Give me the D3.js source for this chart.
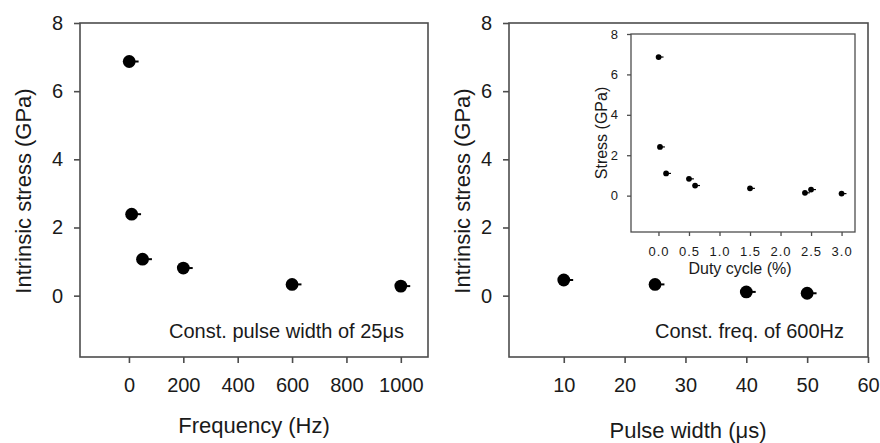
<!DOCTYPE html>
<html>
<head>
<meta charset="utf-8">
<script src="https://cdn.jsdelivr.net/npm/d3@7"></script>
<style>
  body { margin: 0; background: #fff; }
  text { font-family: "Liberation Sans", Arial, sans-serif; fill: #1a1a1a; }
</style>
</head>
<body>
<svg id="chart" width="880" height="443"></svg>
<script>
// left panel: stress vs frequency (const pulse width 25us)
let freqHz = [1, 10, 50, 200, 600, 1000];
let freqStress = [6.87, 2.39, 1.07, 0.81, 0.33, 0.28];
let freqTicks = [0, 200, 400, 600, 800, 1000];

// right panel: stress vs pulse width (const freq 600Hz)
let pulseUs = [10, 25, 40, 50];
let pulseStress = [0.46, 0.33, 0.11, 0.07];
let pulseTicks = [10, 20, 30, 40, 50, 60];

// inset: stress vs duty cycle
let duty = [0.0025, 0.025, 0.125, 0.5, 0.6, 1.5, 2.4, 2.5, 3.0];
let dutyStress = [6.86, 2.41, 1.1, 0.83, 0.5, 0.36, 0.14, 0.3, 0.1];
let dutyTicks = [0, 0.5, 1.0, 1.5, 2.0, 2.5, 3.0];

let stressTicks = [0, 2, 4, 6, 8];

let canvas = d3.select("#chart");
canvas.append("rect").attr("width", 880).attr("height", 443).attr("fill", "#fff");

let boxColor = "#4d4d4d";

function drawPanel(opts) {
    let x = d3.scaleLinear().domain(opts.xDomain).range([opts.left, opts.right]);
    let y = d3.scaleLinear().domain(opts.yDomain).range([opts.bottom, opts.top]);

    let g = canvas.append("g");

    let styleTicks = a => {
        a.select(".domain").remove();
        a.selectAll("line").attr("stroke", boxColor).attr("stroke-width", opts.stroke);
        a.selectAll("text")
            .style("font-family", "'Liberation Sans', Arial, sans-serif")
            .style("font-size", opts.tickFont + "px")
            .style("letter-spacing", opts.spacing + "px")
            .attr("fill", opts.tickColor);
    };

    g.append("g")
        .attr("transform", "translate(0," + opts.bottom + ")")
        .call(d3.axisBottom(x)
            .tickValues(opts.xTicks)
            .tickFormat(opts.xFormat)
            .tickSize(opts.tick)
            .tickSizeOuter(0)
            .tickPadding(opts.xPad))
        .call(styleTicks);

    g.append("g")
        .attr("transform", "translate(" + opts.left + ",0)")
        .call(d3.axisLeft(y)
            .tickValues(stressTicks)
            .tickSize(opts.tick)
            .tickSizeOuter(0)
            .tickPadding(opts.yPad))
        .call(styleTicks);

    g.append("rect")
        .attr("x", opts.left)
        .attr("y", opts.top)
        .attr("width", opts.right - opts.left)
        .attr("height", opts.bottom - opts.top)
        .attr("fill", "none")
        .attr("stroke", boxColor)
        .attr("stroke-width", opts.stroke);

    let pts = opts.xs.map((v, i) => ({ x: v, y: opts.ys[i] }));

    g.selectAll(null).data(pts).enter()
        .append("line")
        .attr("x1", d => x(d.x))
        .attr("x2", d => x(d.x) + opts.r + opts.tail)
        .attr("y1", d => y(d.y))
        .attr("y2", d => y(d.y))
        .attr("stroke", "#000")
        .attr("stroke-width", opts.r > 4 ? 2 : 1.2);

    g.selectAll(null).data(pts).enter()
        .append("circle")
        .attr("cx", d => x(d.x))
        .attr("cy", d => y(d.y))
        .attr("r", opts.r)
        .attr("fill", "#000");

    // axis titles
    g.append("text")
        .attr("x", opts.xTitleX)
        .attr("y", opts.xTitleY)
        .attr("text-anchor", "middle")
        .style("font-size", opts.titleFont + "px")
        .text(opts.xTitle);

    g.append("text")
        .attr("transform", "translate(" + opts.yTitleX + "," + opts.yTitleY + ") rotate(-90)")
        .attr("text-anchor", "middle")
        .attr("dy", "0.35em")
        .style("font-size", opts.titleFont + "px")
        .text(opts.yTitle);

    if (opts.note) {
        g.append("text")
            .attr("x", opts.right - 24)
            .attr("y", 338)
            .attr("text-anchor", "end")
            .style("font-size", "20px")
            .text(opts.note);
    }
    return g;
}

drawPanel({
    xs: freqHz, ys: freqStress,
    xDomain: [-180, 1100], yDomain: [-1.8, 8],
    left: 80, right: 428, top: 23, bottom: 357,
    xTicks: freqTicks, xFormat: d3.format("d"),
    tick: 6, xPad: 15, yPad: 11, stroke: 1.6,
    tickFont: 20, tickColor: "#1a1a1a", spacing: 0,
    r: 6.4, tail: 3,
    titleFont: 22,
    xTitle: "Frequency (Hz)", xTitleX: 254, xTitleY: 433,
    yTitle: "Intrinsic stress (GPa)", yTitleX: 23, yTitleY: 191,
    note: "Const. pulse width of 25\u03bcs"
});

drawPanel({
    xs: pulseUs, ys: pulseStress,
    xDomain: [1, 60], yDomain: [-1.8, 8],
    left: 509, right: 868, top: 23, bottom: 357,
    xTicks: pulseTicks, xFormat: d3.format("d"),
    tick: 6, xPad: 15, yPad: 11, stroke: 1.6,
    tickFont: 20, tickColor: "#1a1a1a", spacing: 0,
    r: 6.4, tail: 3,
    titleFont: 22,
    xTitle: "Pulse width (\u03bcs)", xTitleX: 688, xTitleY: 438,
    yTitle: "Intrinsic stress (GPa)", yTitleX: 462, yTitleY: 191,
    note: "Const. freq. of 600Hz"
});

drawPanel({
    xs: duty, ys: dutyStress,
    xDomain: [-0.45, 3.22], yDomain: [-1.8, 8],
    left: 631, right: 855, top: 34, bottom: 232,
    xTicks: dutyTicks, xFormat: d3.format(".1f"),
    tick: 4, xPad: 11, yPad: 8, stroke: 1.3,
    tickFont: 13, tickColor: "#3a3a3a", spacing: 1,
    r: 2.9, tail: 2,
    titleFont: 16,
    xTitle: "Duty cycle (%)", xTitleX: 740, xTitleY: 274,
    yTitle: "Stress (GPa)", yTitleX: 601, yTitleY: 133
});
</script>
</body>
</html>
